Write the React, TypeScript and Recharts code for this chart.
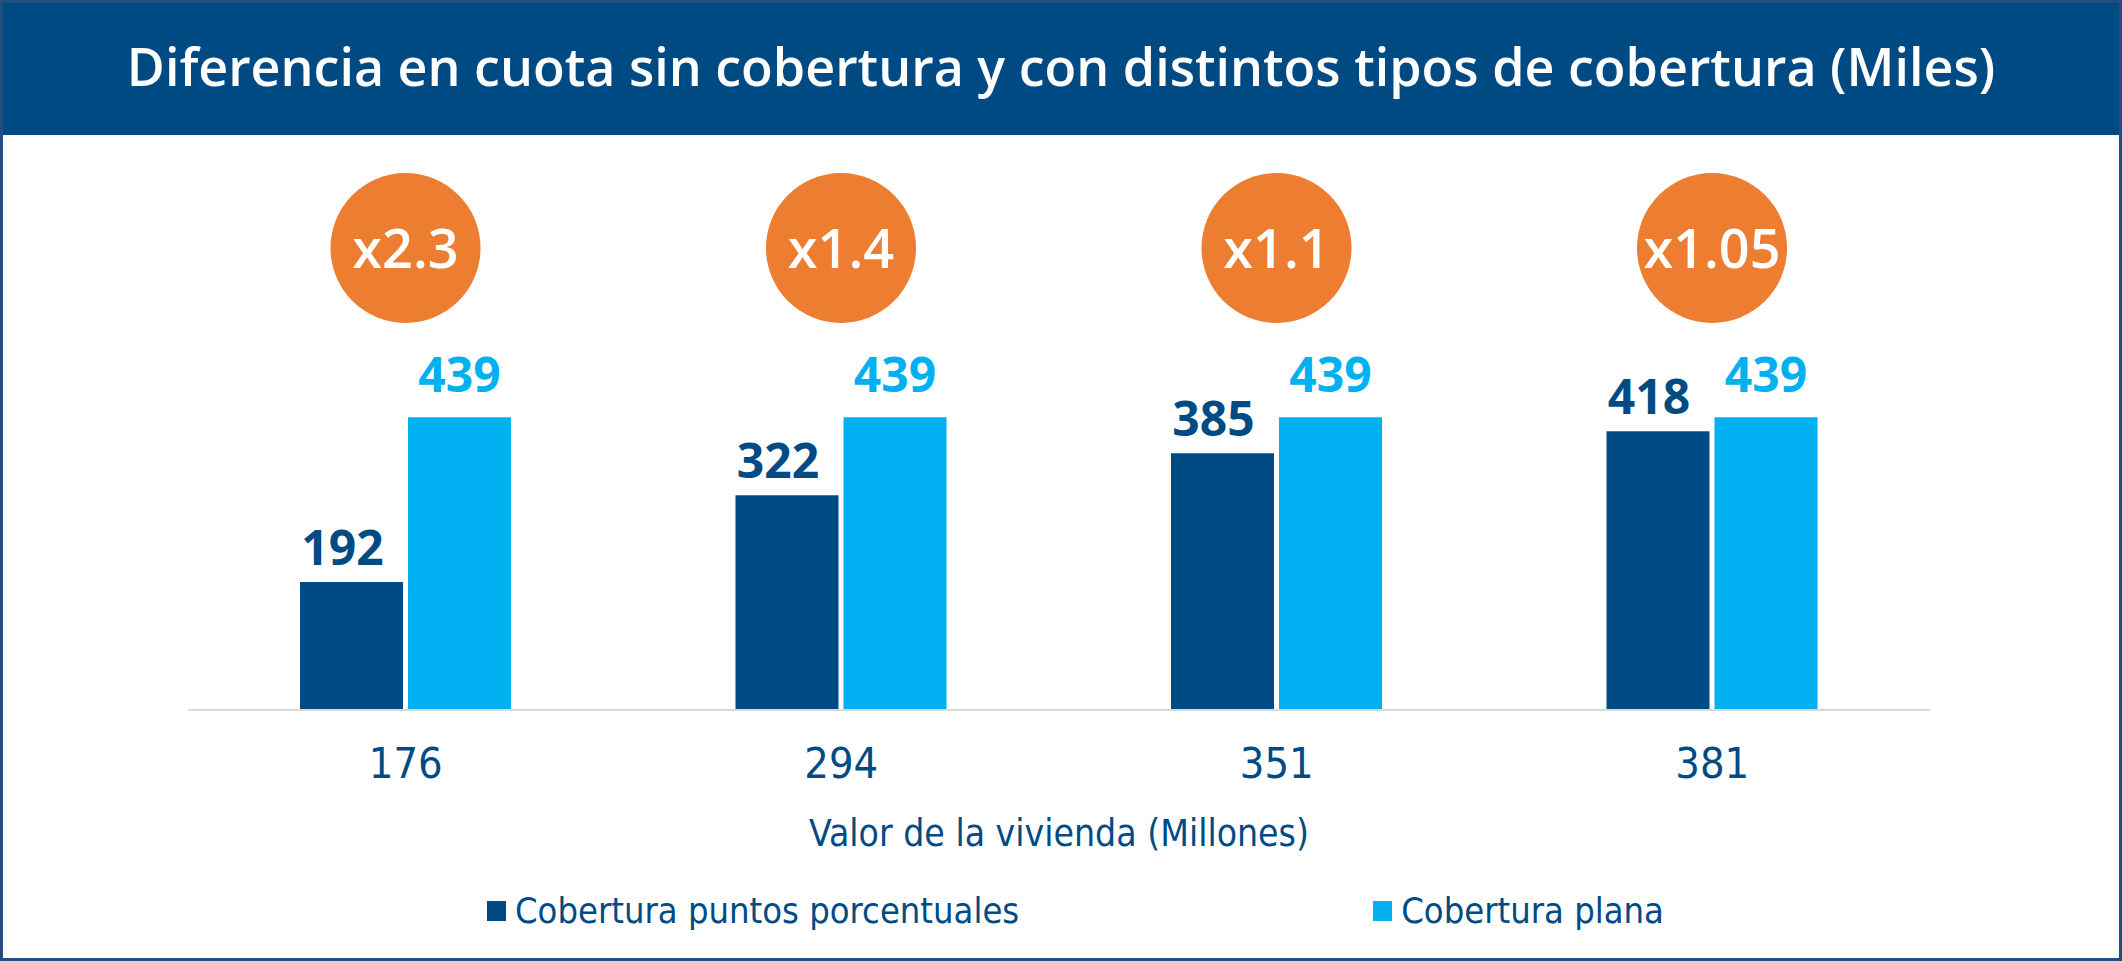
import { BarChart, Bar, XAxis, YAxis, Legend, LabelList } from 'recharts';

// valor de la vivienda (millones)
const categories = ['176', '294', '351', '381'];
// diferencia en cuota (miles)
const puntosValues = [192, 322, 385, 418];
const planaValues = [439, 439, 439, 439];
const multipliers = ['x2.3', 'x1.4', 'x1.1', 'x1.05'];
const seriesNames = ['Cobertura puntos porcentuales', 'Cobertura plana'];

const data = categories.map((c, i) => ({
  valor: c,
  puntos: puntosValues[i],
  plana: planaValues[i],
  mult: multipliers[i],
}));

const W = 2122;
const H = 961;
const DARK = '#004B84';
const LIGHT = '#00B0F0';
const ORANGE = '#ED7D31';
const NARROW = "'Liberation Sans Narrow', 'DejaVu Sans Condensed', 'Arial Narrow', sans-serif";
const BOLD = "'Open Sans', sans-serif";
const PLOT_TOP = 310;
const BAR_GAP = 5;

// bar labels get their box either flat or in viewBox depending on version
const box = (p: any) => {
  const v = p.viewBox && p.viewBox.width != null ? p.viewBox : p;
  return { x: Number(v.x), y: Number(v.y), w: Number(v.width) };
};

const DarkValue = (props: any) => {
  const { x, y, w } = box(props);
  return (
    <text x={x + w / 2 - 9} y={y - 17} textAnchor="middle" fill={DARK}
      fontFamily={BOLD} fontWeight={700} fontSize={48}>
      {props.value}
    </text>
  );
};

const LightValue = (props: any) => {
  const { x, y, w } = box(props);
  return (
    <text x={x + w / 2} y={y - 25} textAnchor="middle" fill={LIGHT}
      fontFamily={BOLD} fontWeight={700} fontSize={48}>
      {props.value}
    </text>
  );
};

// orange bubble centred over each pair of bars
const Bubble = (props: any) => {
  const { x, w } = box(props);
  const cx = x + w + BAR_GAP / 2;
  const cy = PLOT_TOP - 62;
  return (
    <g>
      <circle cx={cx} cy={cy} r={75} fill={ORANGE} />
      <text x={cx} y={cy + 20} textAnchor="middle" fill="#fff"
        fontFamily={BOLD} fontWeight={600} fontSize={54}>
        {props.value}
      </text>
    </g>
  );
};

const seriesColors = [DARK, LIGHT];

const renderLegend = () => (
  <div style={{ display: 'flex', gap: 354, paddingLeft: 487 }}>
    {seriesNames.map((name, i) => (
      <div key={name} style={{ display: 'flex', alignItems: 'center' }}>
        <span style={{ width: 19, height: 20, background: seriesColors[i], marginRight: 9, display: 'inline-block' }} />
        <span style={{ fontFamily: NARROW, fontSize: 36, color: DARK, lineHeight: 1 }}>{name}</span>
      </div>
    ))}
  </div>
);

export default function App() {
  return (
    <div style={{ position: 'relative', width: W, height: H, background: '#fff', overflow: 'hidden' }}>
      <style>{'body{margin:0}'}</style>
      <div style={{ position: 'absolute', left: 0, top: 0, width: W, height: 135, background: '#004A84' }} />
      <div style={{
        position: 'absolute', left: 0, top: 40, width: W, textAlign: 'center', color: '#fff',
        fontFamily: BOLD, fontWeight: 600, fontSize: 52, lineHeight: '52px',
      }}>
        Diferencia en cuota sin cobertura y con distintos tipos de cobertura (Miles)
      </div>
      <div style={{ position: 'absolute', inset: 0, border: '3px solid #1F4E80', pointerEvents: 'none' }} />
      <div style={{ position: 'absolute', left: 0, top: 0 }}>
        <BarChart width={W} height={H} data={data} barSize={103} barGap={BAR_GAP}
          margin={{ top: PLOT_TOP, right: 192, bottom: 191, left: 188 }}>
          <XAxis dataKey="valor" interval={0} height={60} tickLine={false}
            axisLine={{ stroke: '#D9D9D9', strokeWidth: 2 }}
            tickMargin={31}
            tick={{ fill: DARK, fontSize: 43, fontFamily: NARROW }}
            label={{ value: 'Valor de la vivienda (Millones)', position: 'bottom', offset: 50,
              fill: DARK, fontSize: 37, fontFamily: NARROW }} />
          <YAxis hide domain={[0, 600]} />
          <Legend verticalAlign="middle" align="center" layout="horizontal"
            wrapperStyle={{ top: 893, left: 0, width: W }} content={renderLegend} />
          <Bar dataKey="puntos" name={seriesNames[0]} fill={DARK} isAnimationActive={false}>
            <LabelList dataKey="puntos" content={DarkValue} />
            <LabelList dataKey="mult" content={Bubble} />
          </Bar>
          <Bar dataKey="plana" name={seriesNames[1]} fill={LIGHT} isAnimationActive={false}>
            <LabelList dataKey="plana" content={LightValue} />
          </Bar>
        </BarChart>
      </div>
    </div>
  );
}
